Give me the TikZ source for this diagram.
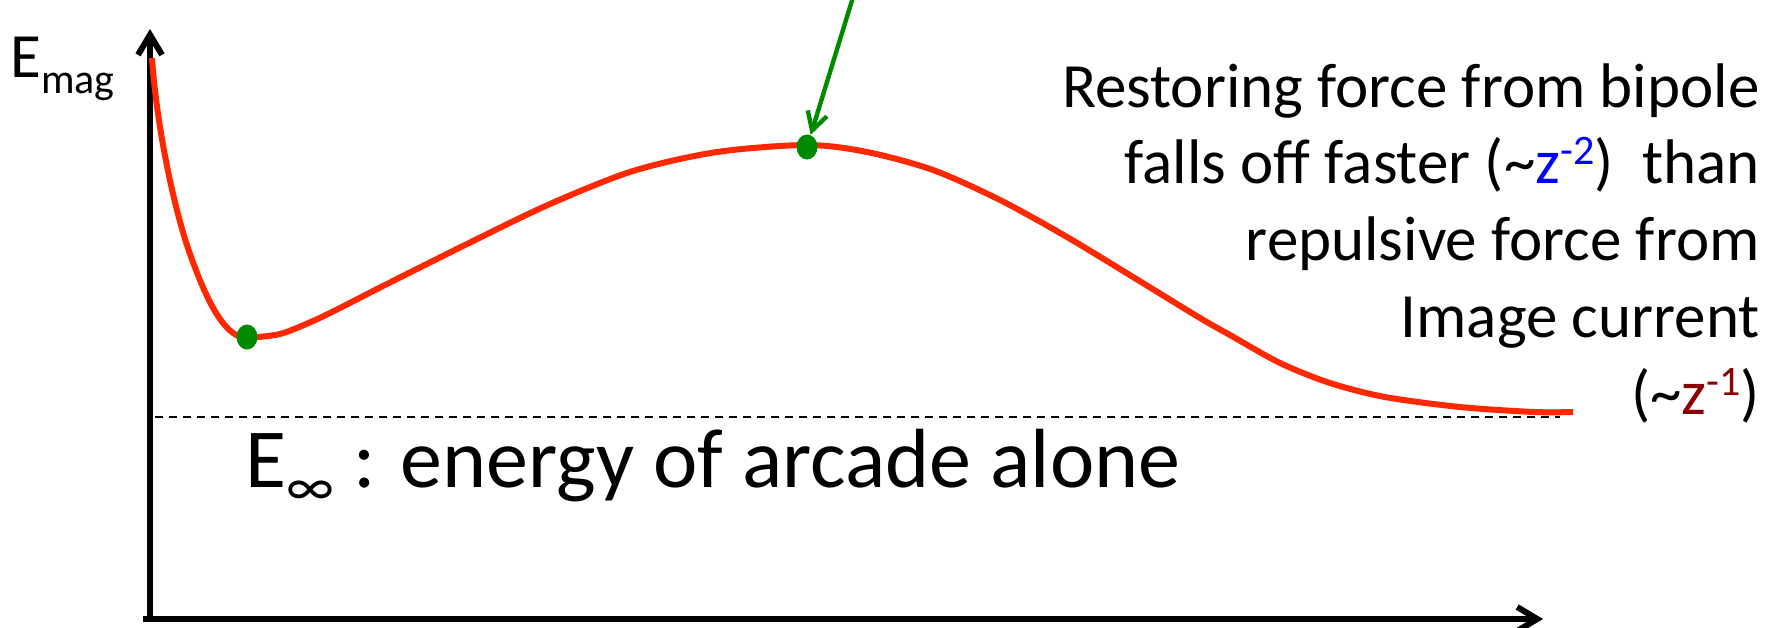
\documentclass[tikz,border=0pt]{standalone}
\usepackage{fontspec}
\setmainfont{Carlito}
\usetikzlibrary{arrows.meta,shapes.geometric}
\definecolor{curvered}{RGB}{255,40,0}
\definecolor{dotgreen}{RGB}{0,138,0}
\definecolor{zblue}{RGB}{0,0,255}
\definecolor{zred}{RGB}{139,0,0}
\newcommand{\supx}[1]{\raisebox{9.5pt}{\fontsize{21pt}{21pt}\selectfont #1}}
\newcommand{\subx}[1]{\raisebox{-8pt}{\fontsize{21pt}{21pt}\selectfont #1}}
\begin{document}
\begin{tikzpicture}[x=0.5pt,y=-0.5pt,
  axis/.style={line width=3pt,-{Straight Barb[length=10pt,width=12pt]}},
  txt/.style={inner sep=0pt,font=\fontsize{31.5pt}{38.5pt}\selectfont},
  rtxt/.style={txt,anchor=base east},
  dot/.style={ellipse,fill=dotgreen,inner sep=0pt,minimum width=10.5pt,minimum height=12.5pt},
  energy/.style={draw=curvered,line width=3pt,line cap=butt,line join=round},
  baseline line/.style={line width=1pt,dash pattern=on 4pt off 3pt},
  pointer/.style={draw=dotgreen,line width=2.2pt,-{Straight Barb[length=9pt,width=10pt]}}]
\useasboundingbox (0,0) rectangle (1775,627);
% axes
\coordinate (yb) at (150,622);
\coordinate (yt) at (150,29);
\coordinate (xl) at (143,619);
\coordinate (xr) at (1543,619);
\draw[axis] (yb) -- (yt);
\draw[axis] (xl) -- (xr);
% dashed asymptote
\coordinate (dl) at (155,417);
\coordinate (dr) at (1560,417);
\draw[baseline line] (dl) -- (dr);
% energy curve
\coordinate (cstart) at (152,58);
\coordinate (cknee) at (190,254);
\coordinate (cmin) at (247,338);
\draw[energy] (cstart) .. controls (157,130) and (175,212) .. (cknee)
  .. controls (203,290) and (222,338) .. (cmin)
  -- plot[smooth,tension=0.5] coordinates {
 (247,338) (280,334) (313,321) (340,308) (383,286) (467,244) (550,204) (633,171)
 (717,152) (807,145) (867,152) (933,170) (1000,200) (1067,237) (1133,277)
 (1200,318) (1230,335) (1280,363) (1330,383) (1385,397) (1460,407) (1534,412) (1573,412)};
% dots
\node[dot] (mindot) at (247,337) {};
\node[dot] (peakdot) at (807,147) {};
% pointer
\coordinate (astart) at (854,-6);
\draw[pointer] (astart) -- (peakdot);
% labels
\node[txt,anchor=base west] (emag) at (10,77) {E\subx{mag}};
\node[inner sep=0pt,anchor=base west,font=\fontsize{42pt}{50pt}\selectfont] (einf) at (245,487)
  {E\raisebox{-9pt}{\fontsize{28pt}{28pt}\selectfont ∞} : energy of arcade alone};
\node[rtxt] (l1) at (1760,107) {Restoring force from bipole};
\node[rtxt] (l2) at (1760,183) {falls off faster (\textasciitilde\textcolor{zblue}{z\supx{-2}})\ \ than};
\node[rtxt] (l3) at (1760,260) {repulsive force from};
\node[rtxt] (l4) at (1760,337) {Image current};
\node[rtxt] (l5) at (1760,414) {(\textasciitilde\textcolor{zred}{z\supx{-1}})};
\end{tikzpicture}
\end{document}
